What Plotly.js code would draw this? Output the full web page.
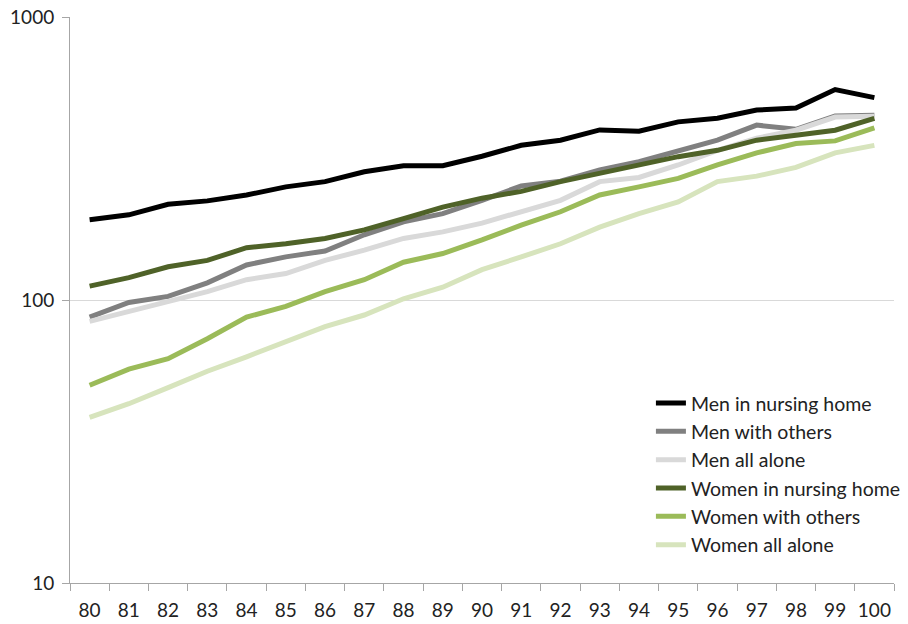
<!DOCTYPE html>
<html>
<head>
<meta charset="utf-8">
<script src="https://cdn.plot.ly/plotly-3.0.1.min.js"></script>
<style>
  html, body { margin: 0; padding: 0; background: #fff; }
  #chart { width: 908px; height: 624px; }
</style>
</head>
<body>
<div id="chart"></div>
<script>
const ages = ["80","81","82","83","84","85","86","87","88","89","90","91","92","93","94","95","96","97","98","99","100"];

const menNursingHome   = [192, 200, 218, 224, 235, 251, 262, 284, 298, 298, 322, 352, 367, 399, 395, 426, 439, 469, 477, 554, 519];
const menWithOthers    = [87, 98, 103, 115, 133, 142, 149, 170, 189, 202, 225, 253, 263, 288, 308, 338, 367, 415, 401, 447, 450];
const menAllAlone      = [84, 91, 99, 107, 118, 124, 138, 150, 165, 174, 187, 205, 225, 262, 271, 300, 338, 373, 398, 443, 446];
const womenNursingHome = [112, 120, 131, 138, 153, 158, 165, 177, 194, 213, 229, 242, 262, 280, 300, 321, 338, 367, 382, 398, 438];
const womenWithOthers  = [50, 57, 62, 73, 87, 95, 107, 118, 136, 146, 163, 184, 205, 235, 251, 269, 300, 331, 357, 365, 406];
const womenAllAlone    = [38.5, 43, 49, 56, 63, 71, 80.5, 88.5, 101, 111, 128, 142, 158, 181, 202, 222, 262, 274, 294, 331, 352];

const seriesNames  = ["Men in nursing home", "Men with others", "Men all alone",
                      "Women in nursing home", "Women with others", "Women all alone"];
const seriesValues = [menNursingHome, menWithOthers, menAllAlone,
                      womenNursingHome, womenWithOthers, womenAllAlone];
const seriesColors = ["#000000", "#808080", "#d9d9d9", "#4f6228", "#9bbb59", "#d7e4bd"];

const yTickVals = [10, 100, 1000];
const yTickText = ["10", "100", "1000"];

const traces = seriesNames.map((name, i) => ({
  type: "scatter",
  mode: "lines",
  name: name,
  x: ages,
  y: seriesValues[i],
  line: { color: seriesColors[i], width: 5 },
  hoverinfo: "skip"
}));

const FONT = "Lato, 'Liberation Sans', Arial, sans-serif";

const layout = {
  width: 908,
  height: 624,
  margin: { l: 70, r: 2, t: 17, b: 41 },
  paper_bgcolor: "#ffffff",
  plot_bgcolor: "#ffffff",
  showlegend: true,
  font: { family: FONT, size: 19, color: "#222" },
  xaxis: {
    type: "category",
    range: [-0.5, 20.5],
    tickson: "boundaries",
    tickangle: 0,
    ticks: "outside",
    ticklen: 7,
    tickcolor: "#a6a6a6",
    tickwidth: 1,
    ticklabelstandoff: 10,
    showline: true,
    linecolor: "#a6a6a6",
    linewidth: 1,
    showgrid: false,
    zeroline: false,
    tickfont: { family: FONT, size: 19, color: "#222" },
    fixedrange: true
  },
  yaxis: {
    type: "log",
    range: [1, 3],
    tickvals: yTickVals,
    ticktext: yTickText,
    ticks: "outside",
    ticklen: 7,
    tickcolor: "#a6a6a6",
    ticklabelstandoff: 4,
    showline: true,
    linecolor: "#a6a6a6",
    linewidth: 1,
    showgrid: true,
    gridcolor: "#d9d9d9",
    gridwidth: 1,
    zeroline: false,
    tickfont: { family: FONT, size: 19, color: "#222" },
    fixedrange: true
  },
  legend: {
    x: 0.705,
    y: 0.352,
    xanchor: "left",
    yanchor: "top",
    bgcolor: "rgba(255,255,255,0)",
    borderwidth: 0,
    font: { family: FONT, size: 19.5, color: "#222" },
    itemwidth: 30,
    traceorder: "normal"
  }
};

Plotly.newPlot("chart", traces, layout, { displayModeBar: false, staticPlot: true });
</script>
</body>
</html>
